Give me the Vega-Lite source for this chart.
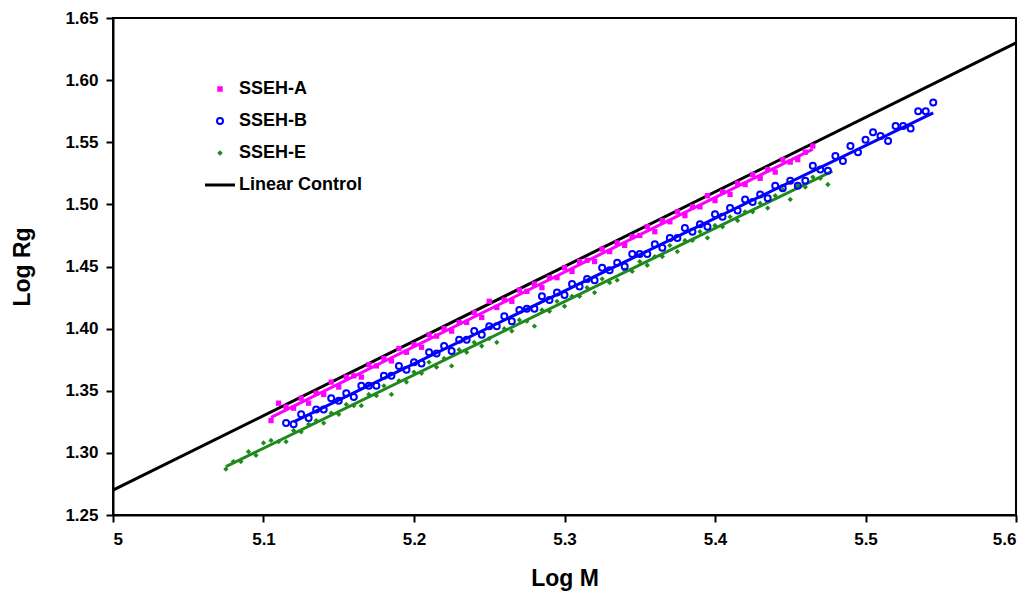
{
  "$schema": "https://vega.github.io/schema/vega-lite/v6.json",
  "width": 903,
  "height": 497,
  "autosize": "none",
  "padding": {"left": 113, "top": 18, "right": 18, "bottom": 79},
  "background": "white",
  "config": {
    "view": {"stroke": "black", "strokeWidth": 2},
    "font": "Liberation Sans",
    "axis": {
      "grid": false,
      "domainColor": "black",
      "domainWidth": 2,
      "tickColor": "black",
      "tickWidth": 2,
      "tickSize": 7,
      "labelFont": "Liberation Sans",
      "labelFontWeight": "bold",
      "labelFontSize": 17,
      "labelColor": "black",
      "titleFont": "Liberation Sans",
      "titleFontWeight": "bold",
      "titleFontSize": 23,
      "titleColor": "black"
    },
    "legend": {
      "labelFont": "Liberation Sans",
      "labelFontWeight": "bold",
      "labelFontSize": 18,
      "labelColor": "black"
    }
  },
  "datasets": {
    "lines": [
      {"s": "Linear Control", "x": 5.0, "y": 1.27},
      {"s": "Linear Control", "x": 5.6, "y": 1.63},
      {"s": "SSEH-A", "x": 5.105, "y": 1.3285},
      {"s": "SSEH-A", "x": 5.465, "y": 1.5445},
      {"s": "SSEH-B", "x": 5.12, "y": 1.325},
      {"s": "SSEH-B", "x": 5.545, "y": 1.5736},
      {"s": "SSEH-E", "x": 5.075, "y": 1.289},
      {"s": "SSEH-E", "x": 5.478, "y": 1.5268}
    ],
    "pts": [
      {"s": "SSEH-A", "x": 5.105, "y": 1.326},
      {"s": "SSEH-A", "x": 5.110, "y": 1.340},
      {"s": "SSEH-A", "x": 5.115, "y": 1.337},
      {"s": "SSEH-A", "x": 5.120, "y": 1.336},
      {"s": "SSEH-A", "x": 5.125, "y": 1.344},
      {"s": "SSEH-A", "x": 5.130, "y": 1.340},
      {"s": "SSEH-A", "x": 5.135, "y": 1.348},
      {"s": "SSEH-A", "x": 5.140, "y": 1.347},
      {"s": "SSEH-A", "x": 5.145, "y": 1.357},
      {"s": "SSEH-A", "x": 5.150, "y": 1.353},
      {"s": "SSEH-A", "x": 5.155, "y": 1.361},
      {"s": "SSEH-A", "x": 5.160, "y": 1.362},
      {"s": "SSEH-A", "x": 5.165, "y": 1.361},
      {"s": "SSEH-A", "x": 5.170, "y": 1.371},
      {"s": "SSEH-A", "x": 5.175, "y": 1.370},
      {"s": "SSEH-A", "x": 5.180, "y": 1.376},
      {"s": "SSEH-A", "x": 5.185, "y": 1.374},
      {"s": "SSEH-A", "x": 5.190, "y": 1.384},
      {"s": "SSEH-A", "x": 5.195, "y": 1.381},
      {"s": "SSEH-A", "x": 5.200, "y": 1.387},
      {"s": "SSEH-A", "x": 5.205, "y": 1.385},
      {"s": "SSEH-A", "x": 5.210, "y": 1.395},
      {"s": "SSEH-A", "x": 5.215, "y": 1.394},
      {"s": "SSEH-A", "x": 5.220, "y": 1.400},
      {"s": "SSEH-A", "x": 5.225, "y": 1.398},
      {"s": "SSEH-A", "x": 5.230, "y": 1.405},
      {"s": "SSEH-A", "x": 5.235, "y": 1.405},
      {"s": "SSEH-A", "x": 5.240, "y": 1.413},
      {"s": "SSEH-A", "x": 5.245, "y": 1.409},
      {"s": "SSEH-A", "x": 5.250, "y": 1.422},
      {"s": "SSEH-A", "x": 5.255, "y": 1.417},
      {"s": "SSEH-A", "x": 5.260, "y": 1.423},
      {"s": "SSEH-A", "x": 5.265, "y": 1.422},
      {"s": "SSEH-A", "x": 5.270, "y": 1.431},
      {"s": "SSEH-A", "x": 5.275, "y": 1.430},
      {"s": "SSEH-A", "x": 5.280, "y": 1.436},
      {"s": "SSEH-A", "x": 5.285, "y": 1.433},
      {"s": "SSEH-A", "x": 5.290, "y": 1.441},
      {"s": "SSEH-A", "x": 5.295, "y": 1.441},
      {"s": "SSEH-A", "x": 5.300, "y": 1.449},
      {"s": "SSEH-A", "x": 5.305, "y": 1.446},
      {"s": "SSEH-A", "x": 5.310, "y": 1.454},
      {"s": "SSEH-A", "x": 5.315, "y": 1.455},
      {"s": "SSEH-A", "x": 5.320, "y": 1.454},
      {"s": "SSEH-A", "x": 5.325, "y": 1.464},
      {"s": "SSEH-A", "x": 5.330, "y": 1.462},
      {"s": "SSEH-A", "x": 5.335, "y": 1.469},
      {"s": "SSEH-A", "x": 5.340, "y": 1.467},
      {"s": "SSEH-A", "x": 5.345, "y": 1.474},
      {"s": "SSEH-A", "x": 5.350, "y": 1.475},
      {"s": "SSEH-A", "x": 5.355, "y": 1.482},
      {"s": "SSEH-A", "x": 5.360, "y": 1.478},
      {"s": "SSEH-A", "x": 5.365, "y": 1.487},
      {"s": "SSEH-A", "x": 5.370, "y": 1.486},
      {"s": "SSEH-A", "x": 5.375, "y": 1.494},
      {"s": "SSEH-A", "x": 5.380, "y": 1.491},
      {"s": "SSEH-A", "x": 5.385, "y": 1.498},
      {"s": "SSEH-A", "x": 5.390, "y": 1.498},
      {"s": "SSEH-A", "x": 5.395, "y": 1.507},
      {"s": "SSEH-A", "x": 5.400, "y": 1.503},
      {"s": "SSEH-A", "x": 5.405, "y": 1.510},
      {"s": "SSEH-A", "x": 5.410, "y": 1.508},
      {"s": "SSEH-A", "x": 5.415, "y": 1.517},
      {"s": "SSEH-A", "x": 5.420, "y": 1.516},
      {"s": "SSEH-A", "x": 5.425, "y": 1.524},
      {"s": "SSEH-A", "x": 5.430, "y": 1.521},
      {"s": "SSEH-A", "x": 5.435, "y": 1.528},
      {"s": "SSEH-A", "x": 5.440, "y": 1.526},
      {"s": "SSEH-A", "x": 5.445, "y": 1.536},
      {"s": "SSEH-A", "x": 5.450, "y": 1.534},
      {"s": "SSEH-A", "x": 5.455, "y": 1.536},
      {"s": "SSEH-A", "x": 5.460, "y": 1.542},
      {"s": "SSEH-A", "x": 5.465, "y": 1.547},
      {"s": "SSEH-B", "x": 5.115, "y": 1.324},
      {"s": "SSEH-B", "x": 5.120, "y": 1.323},
      {"s": "SSEH-B", "x": 5.125, "y": 1.331},
      {"s": "SSEH-B", "x": 5.130, "y": 1.328},
      {"s": "SSEH-B", "x": 5.135, "y": 1.335},
      {"s": "SSEH-B", "x": 5.140, "y": 1.335},
      {"s": "SSEH-B", "x": 5.145, "y": 1.344},
      {"s": "SSEH-B", "x": 5.150, "y": 1.342},
      {"s": "SSEH-B", "x": 5.155, "y": 1.348},
      {"s": "SSEH-B", "x": 5.160, "y": 1.345},
      {"s": "SSEH-B", "x": 5.165, "y": 1.354},
      {"s": "SSEH-B", "x": 5.170, "y": 1.354},
      {"s": "SSEH-B", "x": 5.175, "y": 1.354},
      {"s": "SSEH-B", "x": 5.180, "y": 1.362},
      {"s": "SSEH-B", "x": 5.185, "y": 1.362},
      {"s": "SSEH-B", "x": 5.190, "y": 1.370},
      {"s": "SSEH-B", "x": 5.195, "y": 1.367},
      {"s": "SSEH-B", "x": 5.200, "y": 1.373},
      {"s": "SSEH-B", "x": 5.205, "y": 1.372},
      {"s": "SSEH-B", "x": 5.210, "y": 1.381},
      {"s": "SSEH-B", "x": 5.215, "y": 1.380},
      {"s": "SSEH-B", "x": 5.220, "y": 1.386},
      {"s": "SSEH-B", "x": 5.225, "y": 1.382},
      {"s": "SSEH-B", "x": 5.230, "y": 1.391},
      {"s": "SSEH-B", "x": 5.235, "y": 1.391},
      {"s": "SSEH-B", "x": 5.240, "y": 1.398},
      {"s": "SSEH-B", "x": 5.245, "y": 1.395},
      {"s": "SSEH-B", "x": 5.250, "y": 1.402},
      {"s": "SSEH-B", "x": 5.255, "y": 1.402},
      {"s": "SSEH-B", "x": 5.260, "y": 1.410},
      {"s": "SSEH-B", "x": 5.265, "y": 1.406},
      {"s": "SSEH-B", "x": 5.270, "y": 1.415},
      {"s": "SSEH-B", "x": 5.275, "y": 1.416},
      {"s": "SSEH-B", "x": 5.280, "y": 1.416},
      {"s": "SSEH-B", "x": 5.285, "y": 1.426},
      {"s": "SSEH-B", "x": 5.290, "y": 1.423},
      {"s": "SSEH-B", "x": 5.295, "y": 1.429},
      {"s": "SSEH-B", "x": 5.300, "y": 1.427},
      {"s": "SSEH-B", "x": 5.305, "y": 1.436},
      {"s": "SSEH-B", "x": 5.310, "y": 1.434},
      {"s": "SSEH-B", "x": 5.315, "y": 1.440},
      {"s": "SSEH-B", "x": 5.320, "y": 1.439},
      {"s": "SSEH-B", "x": 5.325, "y": 1.449},
      {"s": "SSEH-B", "x": 5.330, "y": 1.447},
      {"s": "SSEH-B", "x": 5.335, "y": 1.453},
      {"s": "SSEH-B", "x": 5.340, "y": 1.450},
      {"s": "SSEH-B", "x": 5.345, "y": 1.460},
      {"s": "SSEH-B", "x": 5.350, "y": 1.460},
      {"s": "SSEH-B", "x": 5.355, "y": 1.460},
      {"s": "SSEH-B", "x": 5.360, "y": 1.468},
      {"s": "SSEH-B", "x": 5.365, "y": 1.465},
      {"s": "SSEH-B", "x": 5.370, "y": 1.473},
      {"s": "SSEH-B", "x": 5.375, "y": 1.473},
      {"s": "SSEH-B", "x": 5.380, "y": 1.481},
      {"s": "SSEH-B", "x": 5.385, "y": 1.478},
      {"s": "SSEH-B", "x": 5.390, "y": 1.484},
      {"s": "SSEH-B", "x": 5.395, "y": 1.482},
      {"s": "SSEH-B", "x": 5.400, "y": 1.492},
      {"s": "SSEH-B", "x": 5.405, "y": 1.490},
      {"s": "SSEH-B", "x": 5.410, "y": 1.497},
      {"s": "SSEH-B", "x": 5.415, "y": 1.495},
      {"s": "SSEH-B", "x": 5.420, "y": 1.504},
      {"s": "SSEH-B", "x": 5.425, "y": 1.502},
      {"s": "SSEH-B", "x": 5.430, "y": 1.508},
      {"s": "SSEH-B", "x": 5.435, "y": 1.505},
      {"s": "SSEH-B", "x": 5.440, "y": 1.515},
      {"s": "SSEH-B", "x": 5.445, "y": 1.513},
      {"s": "SSEH-B", "x": 5.450, "y": 1.519},
      {"s": "SSEH-B", "x": 5.455, "y": 1.515},
      {"s": "SSEH-B", "x": 5.460, "y": 1.519},
      {"s": "SSEH-B", "x": 5.465, "y": 1.531},
      {"s": "SSEH-B", "x": 5.470, "y": 1.528},
      {"s": "SSEH-B", "x": 5.475, "y": 1.527},
      {"s": "SSEH-B", "x": 5.480, "y": 1.539},
      {"s": "SSEH-B", "x": 5.485, "y": 1.535},
      {"s": "SSEH-B", "x": 5.490, "y": 1.547},
      {"s": "SSEH-B", "x": 5.495, "y": 1.542},
      {"s": "SSEH-B", "x": 5.500, "y": 1.552},
      {"s": "SSEH-B", "x": 5.505, "y": 1.558},
      {"s": "SSEH-B", "x": 5.510, "y": 1.555},
      {"s": "SSEH-B", "x": 5.515, "y": 1.551},
      {"s": "SSEH-B", "x": 5.520, "y": 1.563},
      {"s": "SSEH-B", "x": 5.525, "y": 1.563},
      {"s": "SSEH-B", "x": 5.530, "y": 1.561},
      {"s": "SSEH-B", "x": 5.535, "y": 1.575},
      {"s": "SSEH-B", "x": 5.540, "y": 1.575},
      {"s": "SSEH-B", "x": 5.545, "y": 1.582},
      {"s": "SSEH-E", "x": 5.075, "y": 1.287},
      {"s": "SSEH-E", "x": 5.080, "y": 1.293},
      {"s": "SSEH-E", "x": 5.085, "y": 1.293},
      {"s": "SSEH-E", "x": 5.090, "y": 1.301},
      {"s": "SSEH-E", "x": 5.095, "y": 1.298},
      {"s": "SSEH-E", "x": 5.100, "y": 1.308},
      {"s": "SSEH-E", "x": 5.105, "y": 1.310},
      {"s": "SSEH-E", "x": 5.110, "y": 1.309},
      {"s": "SSEH-E", "x": 5.115, "y": 1.309},
      {"s": "SSEH-E", "x": 5.120, "y": 1.318},
      {"s": "SSEH-E", "x": 5.125, "y": 1.317},
      {"s": "SSEH-E", "x": 5.130, "y": 1.323},
      {"s": "SSEH-E", "x": 5.135, "y": 1.326},
      {"s": "SSEH-E", "x": 5.140, "y": 1.324},
      {"s": "SSEH-E", "x": 5.145, "y": 1.332},
      {"s": "SSEH-E", "x": 5.150, "y": 1.331},
      {"s": "SSEH-E", "x": 5.155, "y": 1.339},
      {"s": "SSEH-E", "x": 5.160, "y": 1.338},
      {"s": "SSEH-E", "x": 5.165, "y": 1.338},
      {"s": "SSEH-E", "x": 5.170, "y": 1.347},
      {"s": "SSEH-E", "x": 5.175, "y": 1.346},
      {"s": "SSEH-E", "x": 5.180, "y": 1.354},
      {"s": "SSEH-E", "x": 5.185, "y": 1.347},
      {"s": "SSEH-E", "x": 5.190, "y": 1.358},
      {"s": "SSEH-E", "x": 5.195, "y": 1.357},
      {"s": "SSEH-E", "x": 5.200, "y": 1.365},
      {"s": "SSEH-E", "x": 5.205, "y": 1.364},
      {"s": "SSEH-E", "x": 5.210, "y": 1.373},
      {"s": "SSEH-E", "x": 5.215, "y": 1.369},
      {"s": "SSEH-E", "x": 5.220, "y": 1.376},
      {"s": "SSEH-E", "x": 5.225, "y": 1.370},
      {"s": "SSEH-E", "x": 5.230, "y": 1.383},
      {"s": "SSEH-E", "x": 5.235, "y": 1.381},
      {"s": "SSEH-E", "x": 5.240, "y": 1.389},
      {"s": "SSEH-E", "x": 5.245, "y": 1.386},
      {"s": "SSEH-E", "x": 5.250, "y": 1.392},
      {"s": "SSEH-E", "x": 5.255, "y": 1.389},
      {"s": "SSEH-E", "x": 5.260, "y": 1.400},
      {"s": "SSEH-E", "x": 5.265, "y": 1.398},
      {"s": "SSEH-E", "x": 5.270, "y": 1.407},
      {"s": "SSEH-E", "x": 5.275, "y": 1.406},
      {"s": "SSEH-E", "x": 5.280, "y": 1.402},
      {"s": "SSEH-E", "x": 5.285, "y": 1.415},
      {"s": "SSEH-E", "x": 5.290, "y": 1.414},
      {"s": "SSEH-E", "x": 5.295, "y": 1.422},
      {"s": "SSEH-E", "x": 5.300, "y": 1.418},
      {"s": "SSEH-E", "x": 5.305, "y": 1.426},
      {"s": "SSEH-E", "x": 5.310, "y": 1.426},
      {"s": "SSEH-E", "x": 5.315, "y": 1.433},
      {"s": "SSEH-E", "x": 5.320, "y": 1.429},
      {"s": "SSEH-E", "x": 5.325, "y": 1.440},
      {"s": "SSEH-E", "x": 5.330, "y": 1.437},
      {"s": "SSEH-E", "x": 5.335, "y": 1.439},
      {"s": "SSEH-E", "x": 5.340, "y": 1.447},
      {"s": "SSEH-E", "x": 5.345, "y": 1.446},
      {"s": "SSEH-E", "x": 5.350, "y": 1.454},
      {"s": "SSEH-E", "x": 5.355, "y": 1.451},
      {"s": "SSEH-E", "x": 5.360, "y": 1.458},
      {"s": "SSEH-E", "x": 5.365, "y": 1.458},
      {"s": "SSEH-E", "x": 5.370, "y": 1.467},
      {"s": "SSEH-E", "x": 5.375, "y": 1.462},
      {"s": "SSEH-E", "x": 5.380, "y": 1.471},
      {"s": "SSEH-E", "x": 5.385, "y": 1.471},
      {"s": "SSEH-E", "x": 5.390, "y": 1.478},
      {"s": "SSEH-E", "x": 5.395, "y": 1.473},
      {"s": "SSEH-E", "x": 5.400, "y": 1.483},
      {"s": "SSEH-E", "x": 5.405, "y": 1.482},
      {"s": "SSEH-E", "x": 5.410, "y": 1.490},
      {"s": "SSEH-E", "x": 5.415, "y": 1.487},
      {"s": "SSEH-E", "x": 5.420, "y": 1.494},
      {"s": "SSEH-E", "x": 5.425, "y": 1.494},
      {"s": "SSEH-E", "x": 5.430, "y": 1.501},
      {"s": "SSEH-E", "x": 5.435, "y": 1.497},
      {"s": "SSEH-E", "x": 5.440, "y": 1.507},
      {"s": "SSEH-E", "x": 5.445, "y": 1.512},
      {"s": "SSEH-E", "x": 5.450, "y": 1.504},
      {"s": "SSEH-E", "x": 5.455, "y": 1.515},
      {"s": "SSEH-E", "x": 5.460, "y": 1.514},
      {"s": "SSEH-E", "x": 5.465, "y": 1.522},
      {"s": "SSEH-E", "x": 5.470, "y": 1.521},
      {"s": "SSEH-E", "x": 5.475, "y": 1.516}
    ]
  },
  "encoding": {
    "x": {
      "field": "x",
      "type": "quantitative",
      "scale": {"domain": [5, 5.6], "nice": false, "zero": false},
      "axis": {"values": [5, 5.1, 5.2, 5.3, 5.4, 5.5, 5.6], "format": "~f", "title": "Log M", "titlePadding": 20, "labelPadding": 9}
    },
    "y": {
      "field": "y",
      "type": "quantitative",
      "scale": {"domain": [1.25, 1.65], "nice": false, "zero": false},
      "axis": {"values": [1.25, 1.3, 1.35, 1.4, 1.45, 1.5, 1.55, 1.6, 1.65], "format": ".2f", "title": "Log Rg", "titlePadding": 30, "labelPadding": 8}
    }
  },
  "layer": [
    {
      "data": {"name": "lines"},
      "mark": {"type": "line", "strokeWidth": 3},
      "encoding": {
        "color": {
          "field": "s",
          "type": "nominal",
          "scale": {"domain": ["SSEH-A", "SSEH-B", "SSEH-E", "Linear Control"], "range": ["#ff00ff", "#0000ff", "#1e8a1e", "#000000"]},
          "legend": {
            "title": null,
            "orient": "none",
            "legendX": 98,
            "legendY": 62,
            "padding": 0,
            "symbolSize": 900,
            "rowPadding": 14,
            "labelOffset": 10,
            "encode": {
              "symbols": {
                "update": {
                  "shape": {"signal": "datum.value === 'Linear Control' ? 'stroke' : datum.value === 'SSEH-A' ? 'square' : datum.value === 'SSEH-B' ? 'circle' : 'diamond'"},
                  "size": {"signal": "datum.value === 'Linear Control' ? 900 : datum.value === 'SSEH-B' ? 36 : 30"},
                  "fill": {"signal": "datum.value === 'SSEH-B' || datum.value === 'Linear Control' ? 'white' : scale('color', datum.value)"},
                  "fillOpacity": {"signal": "datum.value === 'SSEH-B' ? 0 : 1"},
                  "stroke": {"signal": "scale('color', datum.value)"},
                  "strokeWidth": {"signal": "datum.value === 'Linear Control' ? 3 : datum.value === 'SSEH-B' ? 2 : 0"},
                  "opacity": {"value": 1}
                }
              }
            }
          }
        },
        "detail": {"field": "s"}
      }
    },
    {
      "data": {"name": "pts"},
      "transform": [{"filter": "datum.s !== 'SSEH-B'"}],
      "mark": {"type": "point", "filled": true, "opacity": 1},
      "encoding": {
        "color": {"field": "s", "type": "nominal"},
        "shape": {
          "field": "s",
          "type": "nominal",
          "scale": {"domain": ["SSEH-A", "SSEH-B", "SSEH-E", "Linear Control"], "range": ["square", "circle", "diamond", "stroke"]},
          "legend": null
        },
        "size": {"value": 28}
      }
    },
    {
      "data": {"name": "pts"},
      "transform": [{"filter": "datum.s === 'SSEH-B'"}],
      "mark": {"type": "point", "filled": false, "opacity": 1, "strokeWidth": 2, "shape": "circle", "size": 36},
      "encoding": {
        "color": {"field": "s", "type": "nominal"}
      }
    }
  ]
}
